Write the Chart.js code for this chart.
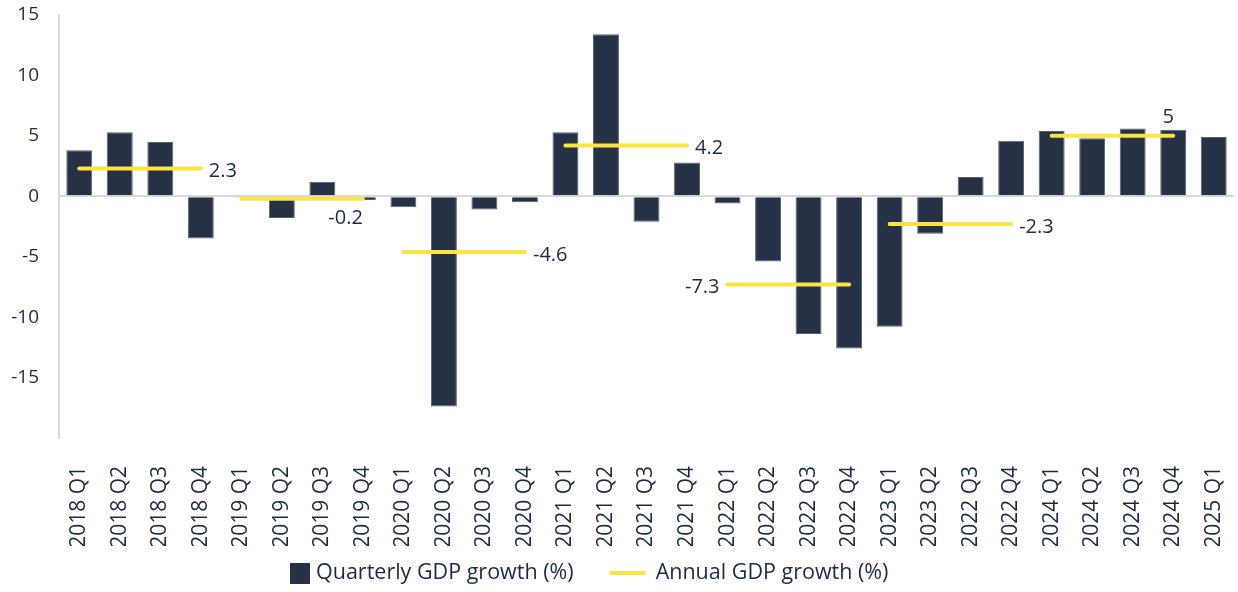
<!DOCTYPE html>
<html>
<head>
<meta charset="utf-8">
<script src="https://cdn.jsdelivr.net/npm/chart.js@4"></script>
<style>
  html, body { margin: 0; padding: 0; background: #fff; }
  #wrap { width: 1238px; height: 592px; }
</style>
</head>
<body>
<div id="wrap"><canvas id="gdp"></canvas></div>
<script>
const quarterLabels = [
  '2018 Q1', '2018 Q2', '2018 Q3', '2018 Q4',
  '2019 Q1', '2019 Q2', '2019 Q3', '2019 Q4',
  '2020 Q1', '2020 Q2', '2020 Q3', '2020 Q4',
  '2021 Q1', '2021 Q2', '2021 Q3', '2021 Q4',
  '2022 Q1', '2022 Q2', '2022 Q3', '2022 Q4',
  '2023 Q1', '2023 Q2', '2022 Q3', '2022 Q4',
  '2024 Q1', '2024 Q2', '2024 Q3', '2024 Q4',
  '2025 Q1'
];
const quarterlyGrowth = [
  3.8, 5.3, 4.5, -3.5,
  -0.1, -1.8, 1.2, -0.3,
  -0.9, -17.4, -1.1, -0.5,
  5.3, 13.4, -2.1, 2.8,
  -0.6, -5.4, -11.4, -12.6,
  -10.8, -3.1, 1.6, 4.6,
  5.4, 4.8, 5.6, 5.5,
  4.9
];
const annualGrowth = [2.3, -0.2, -4.6, 4.2, -7.3, -2.3, 5];
const annualLabelSide = ['right', 'below', 'right', 'right', 'left', 'right', 'above'];
const yTicks = [-20, -15, -10, -5, 0, 5, 10, 15];

const navy = '#263145';
const yellow = '#fde443';
const textColor = '#1d2a44';
const font = '"Open Sans", sans-serif';

// each year's value repeated over its four quarters
const annualByQuarter = quarterLabels.map((q, i) => {
  const v = annualGrowth[Math.floor(i / 4)];
  return v === undefined ? null : v;
});

const annualLabels = {
  id: 'annualLabels',
  afterDatasetsDraw(chart) {
    const { ctx, scales: { x, y } } = chart;
    ctx.save();
    ctx.font = '20px ' + font;
    ctx.fillStyle = textColor;
    ctx.textBaseline = 'middle';
    annualGrowth.forEach((v, k) => {
      const x0 = x.getPixelForValue(k * 4);
      const x1 = x.getPixelForValue(k * 4 + 3);
      const yy = y.getPixelForValue(v);
      const side = annualLabelSide[k];
      const txt = String(v);
      if (side === 'right') {
        ctx.textAlign = 'left';
        ctx.fillText(txt, x1 + 8, yy + 3);
      } else if (side === 'left') {
        ctx.textAlign = 'right';
        ctx.fillText(txt, x0 - 8, yy + 3);
      } else if (side === 'below') {
        ctx.textAlign = 'right';
        ctx.fillText(txt, x1, yy + 20);
      } else {
        ctx.textAlign = 'center';
        ctx.fillText(txt, x1 - 5, yy - 19);
      }
    });
    ctx.restore();
  }
};

const bottomLegend = {
  id: 'bottomLegend',
  afterDraw(chart) {
    const ctx = chart.ctx;
    const yc = 573;
    let xx = 290;
    ctx.save();
    ctx.font = '21.5px ' + font;
    ctx.textBaseline = 'middle';
    ctx.textAlign = 'left';
    const items = chart.data.datasets;
    ctx.fillStyle = navy;
    ctx.fillRect(xx, yc - 10, 20, 21);
    xx += 26;
    ctx.fillStyle = textColor;
    ctx.fillText(items[1].label, xx, yc);
    xx += ctx.measureText(items[1].label).width + 36;
    ctx.strokeStyle = yellow;
    ctx.lineWidth = 4;
    ctx.beginPath();
    ctx.moveTo(xx, yc);
    ctx.lineTo(xx + 36, yc);
    ctx.stroke();
    xx += 46;
    ctx.fillText(items[0].label, xx, yc);
    ctx.restore();
  }
};

new Chart(document.getElementById('gdp'), {
  type: 'bar',
  data: {
    labels: quarterLabels,
    datasets: [{
      type: 'line',
      label: 'Annual GDP growth (%)',
      data: annualByQuarter,
      borderColor: yellow,
      borderWidth: 4,
      borderCapStyle: 'round',
      pointRadius: 0,
      spanGaps: false,
      order: 0,
      segment: {
        borderColor: c => Math.floor(c.p0DataIndex / 4) === Math.floor(c.p1DataIndex / 4) ? yellow : 'transparent'
      }
    }, {
      label: 'Quarterly GDP growth (%)',
      data: quarterlyGrowth,
      backgroundColor: navy,
      borderColor: '#586276',
      borderWidth: 1,
      barPercentage: 0.64,
      categoryPercentage: 1,
      order: 1
    }]
  },
  options: {
    responsive: true,
    maintainAspectRatio: false,
    animation: false,
    layout: { padding: { top: 15, right: 4, bottom: 46, left: 0 } },
    plugins: {
      legend: { display: false },
      tooltip: { enabled: false }
    },
    scales: {
      x: {
        afterFit: s => { s.height = 108; s.paddingTop = 0; s.paddingLeft = 0; s.paddingRight = 0; },
        grid: { display: false },
        border: { display: false },
        ticks: {
          color: textColor,
          font: { family: font, size: 21 },
          minRotation: 90,
          maxRotation: 90,
          autoSkip: false,
          padding: 20
        }
      },
      y: {
        min: -20,
        max: 15,
        afterBuildTicks: s => { s.ticks = yTicks.map(v => ({ value: v })); },
        afterFit: s => { s.width = 59; s.paddingTop = 0; s.paddingBottom = 0; },
        grid: {
          drawTicks: false,
          lineWidth: 2,
          color: c => c.tick && c.tick.value === 0 ? '#d9d9d9' : 'transparent'
        },
        border: { display: true, color: '#d9d9d9', width: 2 },
        ticks: {
          color: textColor,
          font: { family: font, size: 19 },
          padding: 20,
          callback: v => v === -20 ? '' : v
        }
      }
    }
  },
  plugins: [annualLabels, bottomLegend]
});
</script>
</body>
</html>
